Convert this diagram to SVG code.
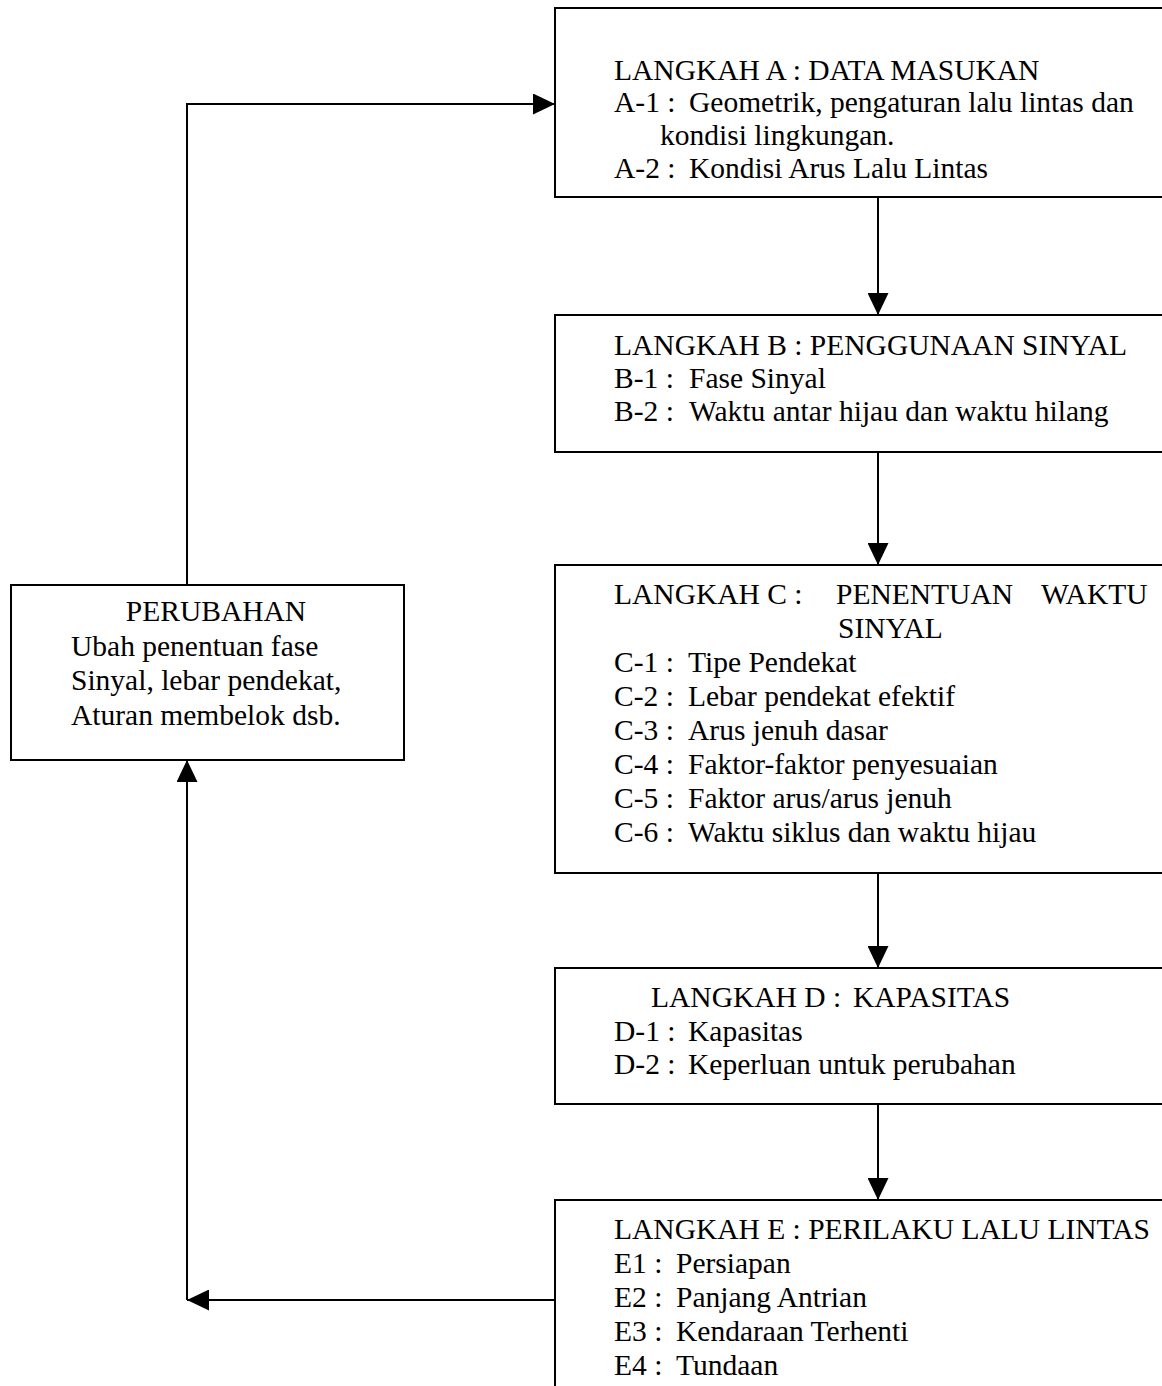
<svg xmlns="http://www.w3.org/2000/svg" width="1162" height="1386" viewBox="0 0 1162 1386">
<style>
.box{fill:#fff;stroke:#000;stroke-width:2}
.ln{fill:none;stroke:#000;stroke-width:2}
text{font-family:"Liberation Serif","Times New Roman",serif;font-size:29.5px;fill:#000}
</style>
<defs>
<marker id="ah" viewBox="0 0 22 21" refX="22" refY="10.5" markerWidth="22" markerHeight="21" markerUnits="userSpaceOnUse" orient="auto">
<path d="M0,0 L22,10.5 L0,21 Z" fill="#000"/>
</marker>
</defs>
<rect width="1162" height="1386" fill="#fff"/>
<g id="connectors">
<line class="ln" x1="878" y1="197" x2="878" y2="315" marker-end="url(#ah)"/>
<line class="ln" x1="878" y1="452" x2="878" y2="565" marker-end="url(#ah)"/>
<line class="ln" x1="878" y1="873" x2="878" y2="968" marker-end="url(#ah)"/>
<line class="ln" x1="878" y1="1104" x2="878" y2="1200" marker-end="url(#ah)"/>
<line class="ln" x1="555" y1="1300" x2="187" y2="1300" marker-end="url(#ah)"/>
<line class="ln" x1="187" y1="1300" x2="187" y2="760" marker-end="url(#ah)"/>
<polyline class="ln" points="187,585 187,104 555,104" marker-end="url(#ah)"/>
</g>
<g id="nodeA">
<rect class="box" x="555" y="8" width="620" height="189"/>
<text x="614" y="80">LANGKAH A : DATA MASUKAN</text>
<text x="614" y="112">A-1 :<tspan x="689">Geometrik, pengaturan lalu lintas dan</tspan></text>
<text x="660" y="145">kondisi lingkungan.</text>
<text x="614" y="178">A-2 :<tspan x="689">Kondisi  Arus Lalu Lintas</tspan></text>
</g>
<g id="nodeB">
<rect class="box" x="555" y="315" width="620" height="137"/>
<text x="614" y="355">LANGKAH B : PENGGUNAAN SINYAL</text>
<text x="614" y="388">B-1 :<tspan x="689">Fase Sinyal</tspan></text>
<text x="614" y="421">B-2 :<tspan x="689">Waktu antar hijau dan waktu hilang</tspan></text>
</g>
<g id="nodeC">
<rect class="box" x="555" y="565" width="620" height="308"/>
<text x="614" y="604">LANGKAH C :<tspan x="836">PENENTUAN</tspan><tspan x="1041">WAKTU</tspan></text>
<text x="838" y="638">SINYAL</text>
<text x="614" y="672">C-1 :<tspan x="688">Tipe Pendekat</tspan></text>
<text x="614" y="706">C-2 :<tspan x="688">Lebar pendekat efektif</tspan></text>
<text x="614" y="740">C-3 :<tspan x="688">Arus jenuh dasar</tspan></text>
<text x="614" y="774">C-4 :<tspan x="688">Faktor-faktor penyesuaian</tspan></text>
<text x="614" y="808">C-5 :<tspan x="688">Faktor arus/arus jenuh</tspan></text>
<text x="614" y="842">C-6 :<tspan x="688">Waktu siklus dan waktu hijau</tspan></text>
</g>
<g id="nodeD">
<rect class="box" x="555" y="968" width="620" height="136"/>
<text x="651" y="1007">LANGKAH D :<tspan x="853">KAPASITAS</tspan></text>
<text x="614" y="1041">D-1 :<tspan x="688">Kapasitas</tspan></text>
<text x="614" y="1074">D-2 :<tspan x="688">Keperluan untuk perubahan</tspan></text>
</g>
<g id="nodeE">
<rect class="box" x="555" y="1200" width="620" height="200"/>
<text x="614" y="1239">LANGKAH E : PERILAKU LALU LINTAS</text>
<text x="614" y="1273">E1 :<tspan x="676">Persiapan</tspan></text>
<text x="614" y="1307">E2 :<tspan x="676">Panjang Antrian</tspan></text>
<text x="614" y="1341">E3 :<tspan x="676">Kendaraan Terhenti</tspan></text>
<text x="614" y="1375">E4 :<tspan x="676">Tundaan</tspan></text>
</g>
<g id="nodePerubahan">
<rect class="box" x="11" y="585" width="393" height="175"/>
<text x="216" y="621" text-anchor="middle">PERUBAHAN</text>
<text x="71" y="656">Ubah penentuan fase</text>
<text x="71" y="690">Sinyal, lebar pendekat,</text>
<text x="71" y="725">Aturan membelok dsb.</text>
</g>
</svg>
